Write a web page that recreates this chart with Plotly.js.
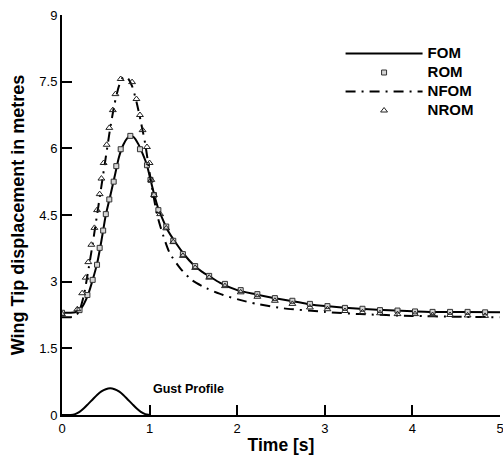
<!DOCTYPE html>
<html>
<head>
<meta charset="utf-8">
<script src="https://cdn.plot.ly/plotly-3.0.1.min.js"></script>
<style>html,body{margin:0;padding:0;background:#fff;}#chart{width:503px;height:458px;}</style>
</head>
<body>
<div id="chart"></div>
<script>
// Full order model (solid line)
var FOM_t = [0, 0.1, 0.15, 0.2, 0.25, 0.3, 0.35, 0.4, 0.45, 0.5, 0.55, 0.6, 0.65, 0.7, 0.75, 0.78, 0.82, 0.87, 0.92, 0.97, 1.0, 1.05, 1.1, 1.15, 1.2, 1.3, 1.4, 1.5, 1.6, 1.7, 1.8, 2.0, 2.2, 2.4, 2.6, 2.8, 3.0, 3.4, 3.8, 4.2, 4.6, 5.0];
var FOM_v = [2.30, 2.30, 2.31, 2.36, 2.50, 2.72, 3.04, 3.40, 3.92, 4.50, 4.92, 5.36, 5.80, 6.08, 6.24, 6.28, 6.25, 6.10, 5.88, 5.62, 5.38, 4.98, 4.64, 4.40, 4.18, 3.87, 3.60, 3.38, 3.22, 3.10, 2.98, 2.81, 2.72, 2.64, 2.57, 2.50, 2.45, 2.39, 2.35, 2.32, 2.32, 2.31];

// Reduced order model (square markers)
var ROM_t = [0, 0.20, 0.29, 0.35, 0.40, 0.43, 0.47, 0.50, 0.54, 0.59, 0.62, 0.67, 0.78, 0.89, 0.97, 1.01, 1.05, 1.10, 1.19, 1.27, 1.38, 1.52, 1.68, 1.86, 2.04, 2.23, 2.43, 2.63, 2.83, 3.03, 3.23, 3.43, 3.63, 3.83, 4.03, 4.23, 4.43, 4.63, 4.83];
var ROM_v = [2.30, 2.36, 2.70, 3.04, 3.38, 3.76, 4.15, 4.52, 4.85, 5.25, 5.60, 5.98, 6.28, 5.98, 5.62, 5.29, 4.95, 4.61, 4.24, 3.92, 3.62, 3.35, 3.13, 2.95, 2.81, 2.72, 2.63, 2.57, 2.50, 2.45, 2.41, 2.39, 2.36, 2.35, 2.33, 2.32, 2.32, 2.32, 2.31];

// Nonlinear full order model (dash-dot line)
var NFOM_t = [0, 0.1, 0.15, 0.2, 0.25, 0.3, 0.35, 0.4, 0.45, 0.5, 0.55, 0.6, 0.65, 0.7, 0.75, 0.8, 0.85, 0.9, 0.95, 1.0, 1.06, 1.1, 1.16, 1.23, 1.35, 1.48, 1.65, 1.84, 2.03, 2.22, 2.53, 3.0, 3.4, 4.0, 4.5, 5.0];
var NFOM_v = [2.20, 2.20, 2.22, 2.35, 2.70, 3.25, 3.85, 4.50, 5.15, 5.80, 6.45, 7.00, 7.40, 7.60, 7.58, 7.40, 7.05, 6.60, 6.10, 5.45, 4.76, 4.40, 4.01, 3.64, 3.30, 3.04, 2.85, 2.70, 2.59, 2.50, 2.40, 2.32, 2.27, 2.23, 2.21, 2.20];

// Nonlinear reduced order model (triangle markers)
var NROM_t = [0, 0.175, 0.23, 0.27, 0.30, 0.335, 0.37, 0.40, 0.43, 0.45, 0.475, 0.51, 0.54, 0.58, 0.61, 0.67, 0.80, 0.85, 0.89, 0.92, 0.97, 1.00, 1.02, 1.05, 1.12, 1.19, 1.27, 1.38, 1.52, 1.68, 1.86, 2.04, 2.23, 2.43, 2.63, 2.83, 3.03, 3.23, 3.43, 3.63, 3.83, 4.03, 4.23, 4.43, 4.63, 4.83];
var NROM_v = [2.27, 2.38, 2.74, 3.09, 3.44, 3.83, 4.21, 4.61, 4.97, 5.32, 5.67, 6.08, 6.46, 6.86, 7.22, 7.56, 7.49, 7.11, 6.75, 6.41, 6.03, 5.67, 5.29, 4.95, 4.52, 4.20, 3.89, 3.58, 3.31, 3.09, 2.90, 2.76, 2.66, 2.57, 2.50, 2.42, 2.38, 2.34, 2.31, 2.29, 2.27, 2.27, 2.25, 2.25, 2.24, 2.23];

// Gust profile
var GUST_t = [0, 0.1, 0.15, 0.2, 0.25, 0.3, 0.35, 0.4, 0.45, 0.5, 0.55, 0.6, 0.65, 0.7, 0.75, 0.8, 0.85, 0.9, 0.95, 1.0];
var GUST_v = [0, 0, 0.02, 0.07, 0.15, 0.25, 0.35, 0.45, 0.53, 0.58, 0.60, 0.58, 0.53, 0.45, 0.35, 0.25, 0.15, 0.07, 0.02, 0];

var seriesNames = ['FOM', 'ROM', 'NFOM', 'NROM'];
var xTitle = 'Time [s]';
var yTitle = 'Wing Tip displacement in metres';
var gustLabel = 'Gust Profile';

var FONT = 'Liberation Sans, Arial, Helvetica, sans-serif';
function legName(s) { return '<span style="font-size:15px">' + s + '</span>'; }

var traces = [
  {x: FOM_t, y: FOM_v, name: legName(seriesNames[0]), mode: 'lines',
   line: {color: '#000', width: 2, shape: 'spline', smoothing: 0.6}},
  {x: ROM_t, y: ROM_v, name: legName(seriesNames[1]), mode: 'markers',
   marker: {symbol: 'square', size: 5, color: '#d4d4d4', line: {color: '#333', width: 1}}},
  {x: NFOM_t, y: NFOM_v, name: legName(seriesNames[2]), mode: 'lines',
   line: {color: '#000', width: 2, dash: '10px,6px,2px,6px', shape: 'spline', smoothing: 0.6}},
  {x: NROM_t, y: NROM_v, name: legName(seriesNames[3]), mode: 'markers',
   marker: {symbol: 'triangle-up-open', size: 6, color: '#222', line: {color: '#222', width: 1}}},
  {x: GUST_t, y: GUST_v, name: 'Gust', mode: 'lines', showlegend: false,
   line: {color: '#000', width: 2, shape: 'spline', smoothing: 0.6}}
];

var layout = {
  width: 503, height: 458,
  margin: {l: 62, r: 3, t: 15, b: 43},
  paper_bgcolor: '#fff', plot_bgcolor: '#fff',
  font: {family: FONT, color: '#000'},
  showlegend: true,
  legend: {x: 0.636, y: 0.94, xanchor: 'left', yanchor: 'top',
    bgcolor: 'rgba(0,0,0,0)', itemwidth: 77,
    font: {family: FONT, size: 12.3, color: '#000', weight: 'bold'}},
  xaxis: {range: [0, 5], tick0: 0, dtick: 1, ticks: 'inside', ticklen: 10, tickwidth: 2,
    tickcolor: '#000', showline: true, linewidth: 2, linecolor: '#000',
    showgrid: false, zeroline: false, mirror: false, ticklabeloverflow: 'allow',
    tickfont: {family: FONT, size: 13, color: '#000'},
    title: {text: '<b>' + xTitle + '</b>', font: {family: FONT, size: 17.5, color: '#000'}, standoff: 4}},
  yaxis: {range: [0, 9], tick0: 0, dtick: 1.5, ticks: 'inside', ticklen: 10, tickwidth: 2,
    tickcolor: '#000', showline: true, linewidth: 2, linecolor: '#000',
    showgrid: false, zeroline: false, mirror: false, ticklabeloverflow: 'allow',
    tickfont: {family: FONT, size: 13, color: '#000'},
    title: {text: '<b>' + yTitle + '</b>', font: {family: FONT, size: 18, color: '#000'}, standoff: 10}},
  annotations: [
    {x: 1.44, y: 0.585, xref: 'x', yref: 'y', text: '<b>' + gustLabel + '</b>', showarrow: false,
     font: {family: FONT, size: 12.5, color: '#000'}}
  ]
};

Plotly.newPlot('chart', traces, layout, {staticPlot: true, displayModeBar: false});
</script>
</body>
</html>
